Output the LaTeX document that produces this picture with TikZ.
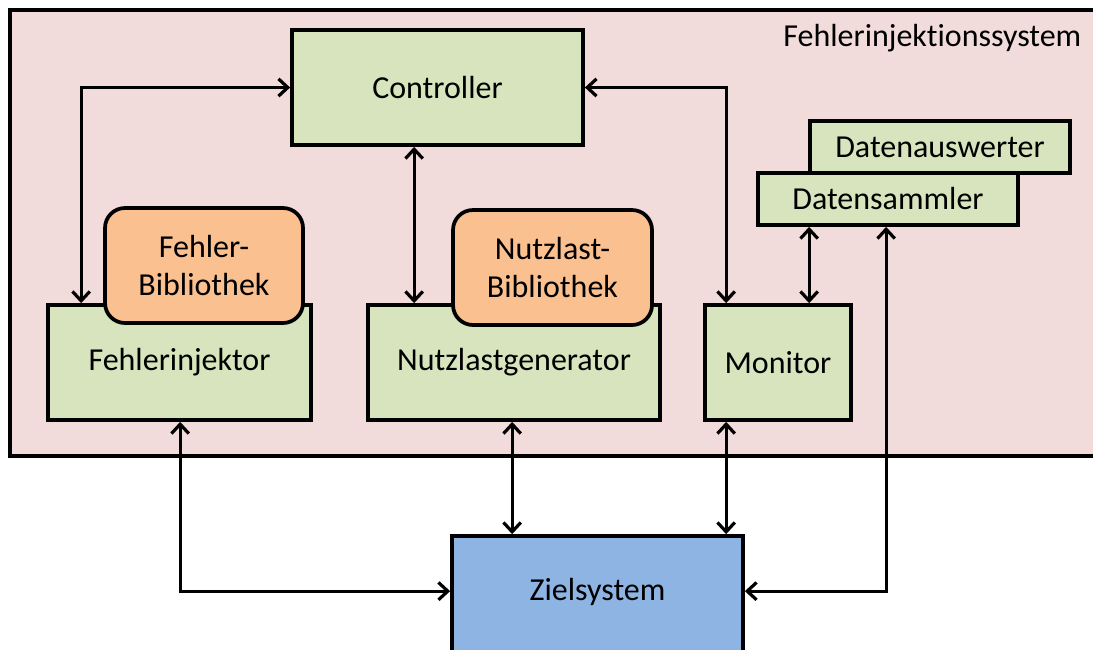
\documentclass[tikz,border=0pt]{standalone}
\usepackage{fontspec}
\setmainfont{Carlito}[Ligatures=NoCommon]
\usetikzlibrary{arrows.meta,fit,calc}
\definecolor{sysfill}{HTML}{F2DCDB}
\definecolor{compfill}{HTML}{D7E4BD}
\definecolor{libfill}{HTML}{FAC090}
\definecolor{targetfill}{HTML}{8EB4E3}
\tikzset{
  block/.style={draw=black, line width=2.8pt, fill=compfill, inner sep=0pt},
  libblock/.style={block, fill=libfill, rounded corners=15pt},
  target/.style={block, fill=targetfill},
  label/.style={align=center, inner sep=0pt},
  link/.style={line width=2.4pt, {Straight Barb[length=7pt,width=13pt]}-{Straight Barb[length=7pt,width=13pt]}},
}
\begin{document}
\begin{tikzpicture}[x=0.75pt, y=-0.75pt, font=\fontsize{24}{29}\selectfont]
\useasboundingbox (0,0) rectangle (1093,650);
\clip (0,0) rectangle (1093,650);
% enclosing system
\draw[line width=2.8pt, fill=sysfill] (10,10) rectangle (1110,456);
\node[anchor=east] (syslabel) at (1086,38) {Fehlerinjektionssystem};
% components
\node[block, fit={(292,30) (583,145)}] (ctrl) {};
\node[label] at (ctrl.center) {Controller};
\node[block, fit={(48,305) (311,420)}] (finj) {};
\node[label] at (finj.center) {Fehlerinjektor};
\node[libblock, fit={(105,208) (303,323)}] (flib) {};
\node[label] at (flib.center) {Fehler-\\Bibliothek};
\node[block, fit={(368,305) (660,420)}] (ngen) {};
\node[label] at (ngen.center) {Nutzlastgenerator};
\node[libblock, fit={(453,210) (652,325)}] (nlib) {};
\node[label] at (nlib.center) {Nutzlast-\\Bibliothek};
\node[block, fit={(705,305) (851,420)}] (mon) {};
\node[label] at (mon.center) {Monitor};
\node[block, fit={(810,121) (1070,173)}] (daus) {};
\node[label] at (daus.center) {Datenauswerter};
\node[block, fit={(758,173) (1018,225)}] (dsam) {};
\node[label] at (dsam.center) {Datensammler};
\node[target, fit={(452,536) (743,656)}] (ziel) {};
\node[label] at ($(ziel.north)+(0,58)$) {Zielsystem};
% connections
\draw[link] (ctrl.west) -| ($(finj.north west)+(35,0)$);
\draw[link] ($(ctrl.south west)+(124,0)$) -- ($(ngen.north west)+(48,0)$);
\draw[link] (ctrl.east) -| ($(mon.north west)+(23,0)$);
\draw[link] ($(dsam.south west)+(53,0)$) -- ($(mon.north west)+(106,0)$);
\draw[link] ($(finj.south west)+(134,0)$) |- ($(ziel.north west)+(0,57)$);
\draw[link] ($(ngen.south west)+(146,0)$) -- ($(ziel.north west)+(62,0)$);
\draw[link] ($(mon.south west)+(23,0)$) -- ($(ziel.north west)+(276,0)$);
\draw[link] ($(ziel.north east)+(0,57)$) -| ($(dsam.south west)+(130,0)$);
\end{tikzpicture}
\end{document}
